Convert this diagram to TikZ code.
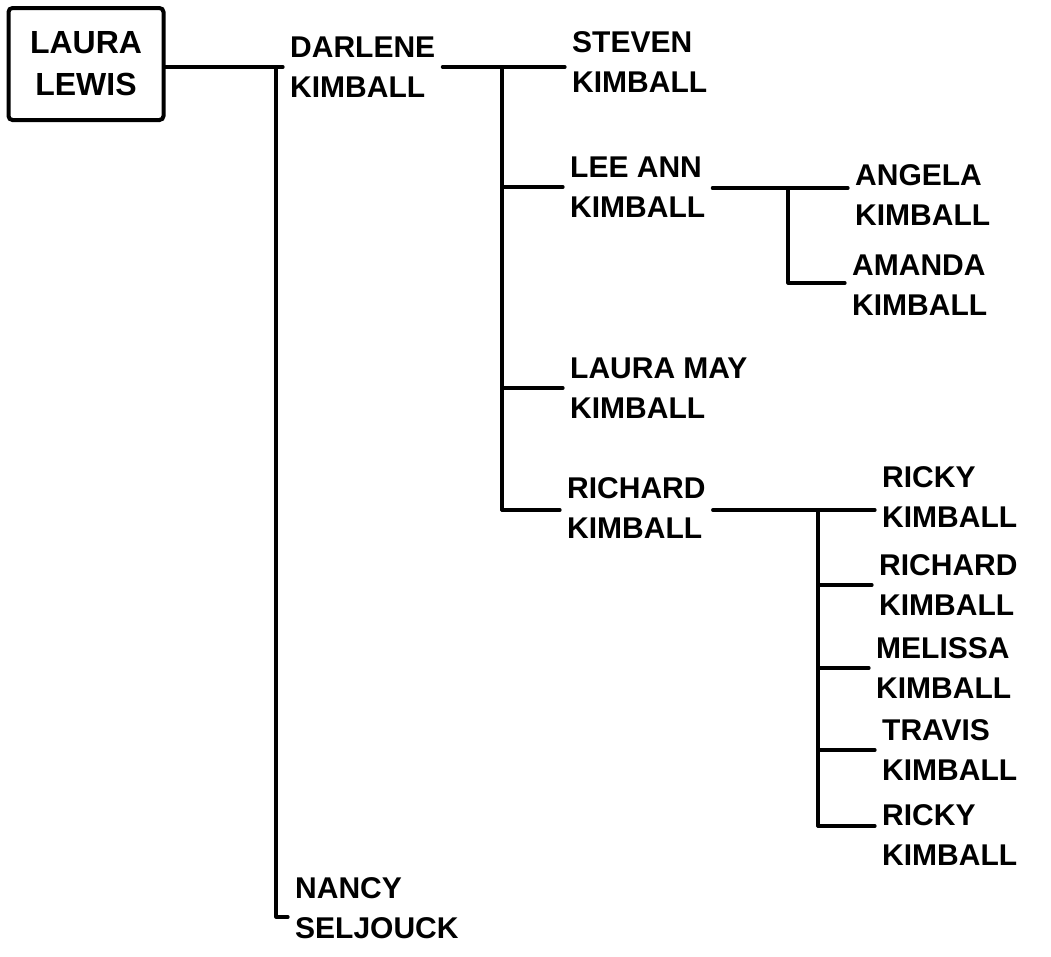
\documentclass[tikz,border=0pt]{standalone}
\usepackage{fontspec}
\setmainfont{Liberation Sans}
\begin{document}
\begin{tikzpicture}[x=1pt,y=-1pt,
  nm/.style={anchor=west,align=left,font=\fontsize{30}{40}\selectfont\bfseries,inner xsep=7pt,inner ysep=0pt},
  famline/.style={line width=3.2pt,line cap=round,line join=round},
  boxnode/.style={draw,line width=4pt,rounded corners=4pt,minimum width=155pt,minimum height=112pt,align=center,font=\fontsize{32}{42}\selectfont\bfseries}]
\useasboundingbox (0,0) rectangle (1051,956);
\node[boxnode] (laura) at (86,64) {LAURA\\LEWIS};
\node[nm] (darlene) at (283,67) {DARLENE\\KIMBALL};
\node[nm] (nancy) at (288,908) {NANCY\\SELJOUCK};
\node[nm] (steven) at (565,62) {STEVEN\\KIMBALL};
\node[nm] (leeann) at (563,187) {LEE ANN\\KIMBALL};
\node[nm] (lauramay) at (563,388) {LAURA MAY\\KIMBALL};
\node[nm] (richard) at (560,508) {RICHARD\\KIMBALL};
\node[nm] (angela) at (848,195) {ANGELA\\KIMBALL};
\node[nm] (amanda) at (845,285) {AMANDA\\KIMBALL};
\node[nm] (ricky) at (875,497) {RICKY\\KIMBALL};
\node[nm] (richardjr) at (872,585) {RICHARD\\KIMBALL};
\node[nm] (melissa) at (869,668) {MELISSA\\KIMBALL};
\node[nm] (travis) at (875,750) {TRAVIS\\KIMBALL};
\node[nm] (rickyb) at (875,835) {RICKY\\KIMBALL};
% junctions
\coordinate (ja) at (276,67);
\coordinate (jab) at (276,917);
\coordinate (jb) at (502,67);
\coordinate (jbb) at (502,510);
\coordinate (jc) at (788,188);
\coordinate (jcb) at (788,283);
\coordinate (jd) at (818,510);
\coordinate (jdb) at (818,826);
% Laura Lewis
\draw[famline] (laura.east |- ja) -- (darlene.west);
\draw[famline] (ja) -- (jab) -- (nancy.west |- jab);
% Darlene
\draw[famline] (darlene.east |- jb) -- (steven.west |- jb);
\draw[famline] (jb) -- (jbb);
\draw[famline] (jb |- leeann.west) -- (leeann.west);
\draw[famline] (jb |- lauramay.west) -- (lauramay.west);
\draw[famline] (jbb) -- (richard.west |- jbb);
% Lee Ann
\draw[famline] (leeann.east |- jc) -- (angela.west |- jc);
\draw[famline] (jc) -- (jcb) -- (amanda.west |- jcb);
% Richard
\draw[famline] (richard.east |- jd) -- (ricky.west |- jd);
\draw[famline] (jd) -- (jdb);
\draw[famline] (jd |- richardjr.west) -- (richardjr.west);
\draw[famline] (jd |- melissa.west) -- (melissa.west);
\draw[famline] (jd |- travis.west) -- (travis.west);
\draw[famline] (jdb) -- (rickyb.west |- jdb);
\end{tikzpicture}
\end{document}
